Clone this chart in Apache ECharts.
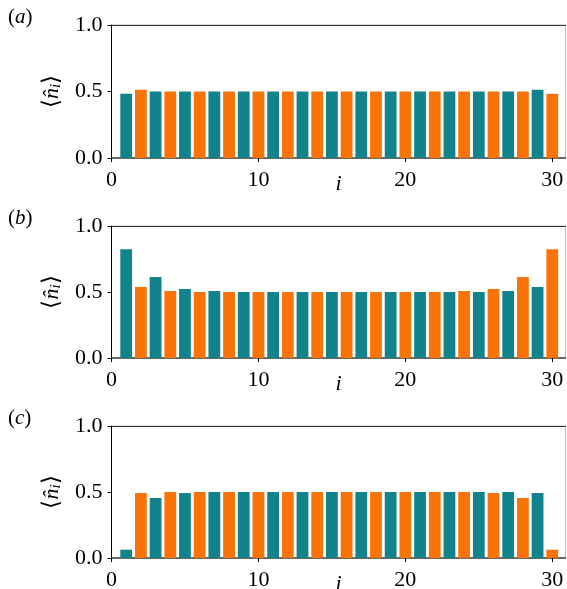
<!DOCTYPE html>
<html>
<head>
<meta charset="utf-8">
<script src="https://cdn.jsdelivr.net/npm/echarts@6/dist/echarts.min.js"></script>
<style>html,body{margin:0;padding:0;background:#fff}#c{width:567px;height:589px}</style>
</head>
<body>
<div id="c"></div>
<script>
const sites = [1,2,3,4,5,6,7,8,9,10,11,12,13,14,15,16,17,18,19,20,21,22,23,24,25,26,27,28,29,30];
const densityA = [0.483,0.513,0.5,0.5,0.5,0.5,0.5,0.5,0.5,0.5,0.5,0.5,0.5,0.5,0.5,0.5,0.5,0.5,0.5,0.5,0.5,0.5,0.5,0.5,0.5,0.5,0.5,0.5,0.513,0.483];
const densityB = [0.824,0.538,0.613,0.508,0.523,0.5,0.508,0.5,0.5,0.5,0.5,0.5,0.5,0.5,0.5,0.5,0.5,0.5,0.5,0.5,0.5,0.5,0.5,0.508,0.5,0.523,0.508,0.613,0.538,0.824];
const densityC = [0.063,0.492,0.455,0.5,0.492,0.5,0.5,0.5,0.5,0.5,0.5,0.5,0.5,0.5,0.5,0.5,0.5,0.5,0.5,0.5,0.5,0.5,0.5,0.5,0.5,0.492,0.5,0.455,0.492,0.063];
const xTicks = [0,10,20,30];
const yTicks = [0,0.5,1];
const panelLabels = ['a','b','c'];
const panels = [densityA, densityB, densityC];

const teal = '#12838b', orange = '#f97306';
const font = 'Liberation Serif';
const tops = [25, 226, 426];
const heights = [133, 132, 132];

const grid = [], xAxis = [], yAxis = [], series = [], graphic = [];
panels.forEach((vals, k) => {
  grid.push({left: 111.5, right: 1.5, top: tops[k], height: heights[k], show: true,
             outerBoundsMode: 'none', containLabel: false,
             borderColor: '#bbbbbb', borderWidth: 1, backgroundColor: 'transparent'});
  xAxis.push({type: 'value', gridIndex: k, min: 0, max: 30.9, position: 'bottom',
    name: 'i', nameLocation: 'middle', nameGap: 26, nameMoveOverlap: false,
    nameTextStyle: {fontFamily: font, fontStyle: 'italic', fontSize: 22, color: '#000', verticalAlign: 'middle'},
    axisLine: {show: true, onZero: false, lineStyle: {color: '#444', width: 1.5}},
    axisTick: {show: true, length: 4, inside: false, customValues: xTicks, lineStyle: {color: '#000'}},
    axisLabel: {customValues: xTicks, fontFamily: font, fontSize: 22, color: '#000', margin: 11},
    splitLine: {show: false}});
  xAxis.push({type: 'value', gridIndex: k, min: 0, max: 30.9, position: 'top',
    axisLine: {show: true, onZero: false, lineStyle: {color: '#333', width: 1}},
    axisTick: {show: false}, axisLabel: {show: false}, splitLine: {show: false}});
  yAxis.push({type: 'value', gridIndex: k, min: 0, max: 1, interval: 0.5,
    name: '⟨{n|n̂}{s|i}⟩', nameLocation: 'middle', nameRotate: 90, nameGap: 48, nameMoveOverlap: false,
    nameTextStyle: {fontFamily: font, fontSize: 23, color: '#000',
      rich: {n: {fontFamily: font, fontStyle: 'italic', fontSize: 22, color: '#000'},
             s: {fontFamily: font, fontStyle: 'italic', fontSize: 15, color: '#000', verticalAlign: 'bottom', padding: [8,0,0,0]}}},
    axisLine: {show: true, onZero: false, lineStyle: {color: '#000', width: 1}},
    axisTick: {show: true, length: 4, lineStyle: {color: '#000'}},
    axisLabel: {fontFamily: font, fontSize: 22, color: '#000', margin: 9,
      formatter: v => v.toFixed(1)},
    splitLine: {show: false}});
  series.push({type: 'bar', xAxisIndex: 2*k, yAxisIndex: k, barWidth: 11.8,
    data: sites.map((s, j) => ({value: [s, vals[j]], itemStyle: {color: s % 2 === 1 ? teal : orange}})),
    animation: false});
  graphic.push({type: 'text', left: 8, top: tops[k] - 18,
    style: {text: '({l|' + panelLabels[k] + '})', font: '21px "' + font + '"', fill: '#000',
      rich: {l: {fontFamily: font, fontStyle: 'italic', fontSize: 21, fill: '#000'}}}});
});

const chart = echarts.init(document.getElementById('c'), null, {renderer: 'canvas'});
chart.setOption({animation: false, grid, xAxis, yAxis, series, graphic});
</script>
</body>
</html>
